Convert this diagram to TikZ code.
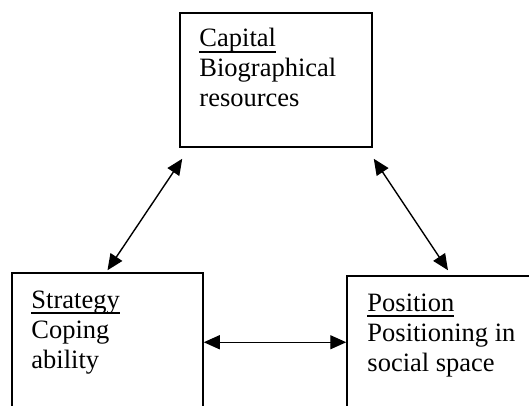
\documentclass[tikz,border=0pt]{standalone}
\usepackage{fontspec}
\setmainfont{Liberation Serif}
\usetikzlibrary{arrows.meta,positioning,calc}

\newcommand{\headword}[1]{\setbox0\hbox{#1}\rlap{\rule[-5.8pt]{\wd0}{1.8pt}}\box0}

\begin{document}
\begin{tikzpicture}[x=1pt, y=1pt]

% Define styles
\tikzstyle{panel} = [rectangle, draw=black, line width=1.5pt, minimum width=192pt, inner sep=0pt]
\tikzstyle{caption} = [align=left, inner sep=0pt, anchor=north west, font=\fontsize{26.5}{30}\selectfont]
\tikzstyle{arrow} = [line width=1.4pt, {Triangle[length=16pt, width=14pt]}-{Triangle[length=16pt, width=14pt]}]

\useasboundingbox (0,0) rectangle (529,-405);
\clip (0,0) rectangle (529,-405);

% Boxes
\node (capital) [panel, minimum height=134pt] at (276,-80) {};
\node (strategy) [panel, minimum width=191pt, minimum height=150pt] at (107.5,-348) {};
\node (position) [panel, minimum height=150pt] at (443,-351) {};

% Texts
\node (capitaltext) [caption] at ([xshift=20pt, yshift=-16pt]capital.north west) {\headword{Capital}\\Biographical\\resources};
\node (strategytext) [caption] at ([xshift=20pt, yshift=-18pt]strategy.north west) {\headword{Strategy}\\Coping\\ability};
\node (positiontext) [caption] at ([xshift=21pt, yshift=-18pt]position.north west) {\headword{Position}\\Positioning in\\social space};

% Connections
\draw [arrow] ([xshift=3pt, yshift=-11pt]capital.south west) -- ([yshift=2pt]strategy.north);
\draw [arrow] ([xshift=1pt, yshift=-11pt]capital.south east) -- ([xshift=5pt, yshift=5pt]position.north);
\draw [arrow] ([yshift=-70pt]strategy.north east) -- ([yshift=-67pt]position.north west);

\end{tikzpicture}
\end{document}
